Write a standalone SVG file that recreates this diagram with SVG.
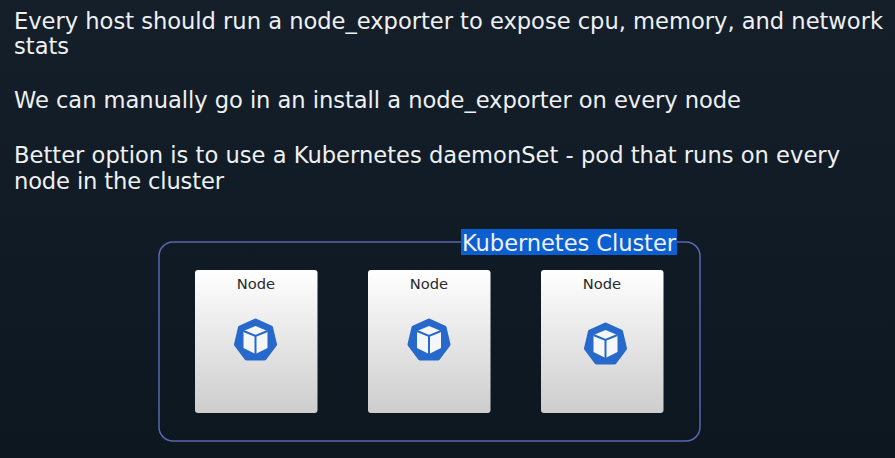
<svg xmlns="http://www.w3.org/2000/svg" width="895" height="458" viewBox="0 0 895 458">
<style>
.t{font-family:"DejaVu Sans",sans-serif;font-size:22.6px;fill:#eef0f2}
.n{font-family:"DejaVu Sans",sans-serif;font-size:14.7px;fill:#2a2a2a;text-anchor:middle}
.card{fill:url(#g);stroke:none}
</style>
<defs>
<linearGradient id="bg" x1="0" y1="0" x2="0" y2="1"><stop offset="0" stop-color="#141f2a"/><stop offset="1" stop-color="#0c1720"/></linearGradient>
<linearGradient id="g" x1="0" y1="0" x2="0" y2="1"><stop offset="0" stop-color="#ffffff"/><stop offset="1" stop-color="#cdcdcd"/></linearGradient>
<g id="ic">
<path d="M0,-19.500 L15.500,-12.500 L19.500,4.500 L9,18.500 L-9,18.500 L-19.500,4.500 L-15.500,-12.500 Z" fill="#2669cb" stroke="#2669cb" stroke-width="4" stroke-linejoin="round"/>
<path d="M0,-14 L12,-9 L12,8 L0,14 L-12,8 L-12,-9 Z" fill="#f4f6f8"/>
<path d="M-12,-9 L0,-4 L12,-9 M0,-4 L0,14" fill="none" stroke="#2669cb" stroke-width="2"/>
</g>
</defs>
<rect width="895" height="458" fill="url(#bg)"/>
<text class="t" x="14" y="29" textLength="869">Every host should run a node_exporter to expose cpu, memory, and network</text>
<text class="t" x="14" y="54">stats</text>
<text class="t" x="14" y="108" textLength="727">We can manually go in an install a node_exporter on every node</text>
<text class="t" x="14" y="163" textLength="826">Better option is to use a Kubernetes daemonSet - pod that runs on every</text>
<text class="t" x="14" y="189" textLength="210">node in the cluster</text>
<g id="cluster">
<rect x="159" y="242" width="541" height="199" rx="14" fill="none" stroke="#5a66b0" stroke-width="1.5"/>
<rect x="461" y="229" width="216" height="26" fill="#0b5fd0"/>
<text class="t" x="462" y="251" textLength="214">Kubernetes Cluster</text>
</g>
<g id="node1"><rect class="card" x="195" y="270" width="122.500" height="143" rx="3"/><text class="n" x="256" y="289">Node</text><use href="#ic" x="255.500" y="340"/></g>
<g id="node2"><rect class="card" x="368" y="270" width="122.500" height="143" rx="3"/><text class="n" x="429" y="289">Node</text><use href="#ic" x="429" y="340"/></g>
<g id="node3"><rect class="card" x="541" y="270" width="122.500" height="143" rx="3"/><text class="n" x="602" y="289">Node</text><use href="#ic" x="605.500" y="344"/></g>
<g id="connectors"/>
</svg>
